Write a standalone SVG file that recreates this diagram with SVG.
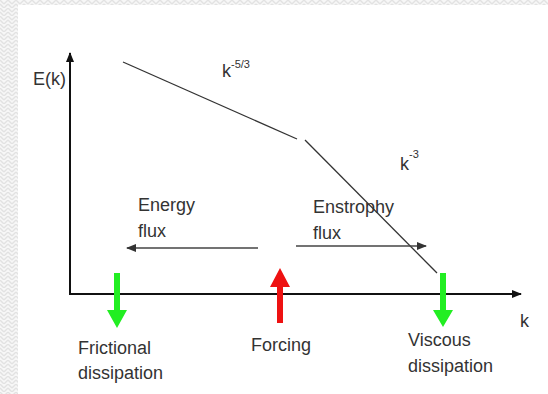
<svg xmlns="http://www.w3.org/2000/svg" width="548" height="394" viewBox="0 0 548 394">
<defs>
<pattern id="hatch" width="8" height="8" patternUnits="userSpaceOnUse">
<rect width="8" height="8" fill="#f7f7f7"/>
<path d="M0,0 L4,4 M4,4 L8,0 M0,4 L4,8 M4,8 L8,4" stroke="#e2e2e2" stroke-width="1.4" fill="none"/>
</pattern>
<marker id="blk" markerWidth="10" markerHeight="8" refX="9" refY="4" orient="auto" markerUnits="userSpaceOnUse">
<path d="M0,0 L10,4 L0,8 Z" fill="#111"/>
</marker>
<marker id="gry" markerWidth="10" markerHeight="8" refX="9" refY="4" orient="auto" markerUnits="userSpaceOnUse">
<path d="M0,0 L10,4 L0,8 Z" fill="#333"/>
</marker>
</defs>
<style>
text{font-family:"Liberation Sans",Arial,sans-serif;fill:#333;font-size:18px}
.sup{font-size:11px}
.axis{stroke:#111;stroke-width:2;fill:none}
.spec{stroke:#333;stroke-width:1.3;fill:none}
.flux{stroke:#444;stroke-width:1.5;fill:none}
</style>
<rect width="548" height="394" fill="#fff"/>
<rect x="0" y="0" width="548" height="5" fill="url(#hatch)"/>
<rect x="0" y="0" width="18" height="394" fill="url(#hatch)"/>
<g id="connectors">
<line class="axis" x1="70" y1="294" x2="70" y2="53" marker-end="url(#blk)"/>
<line class="axis" x1="69" y1="294" x2="521" y2="294" marker-end="url(#blk)"/>
<line class="spec" x1="123" y1="62" x2="297" y2="139"/>
<line class="spec" x1="305" y1="140" x2="437" y2="273"/>
<line class="flux" x1="258" y1="248" x2="127" y2="248" marker-end="url(#gry)"/>
<line class="flux" x1="296" y1="246" x2="426" y2="246" marker-end="url(#gry)"/>
</g>
<g id="frictional-arrow">
<path d="M114,273 H120 V310 H127 L117,328 L107,310 H114 Z" fill="#22ee22"/>
</g>
<g id="forcing-arrow">
<path d="M277,323 H283 V287 H290 L280,268 L270,287 H277 Z" fill="#ee1111"/>
</g>
<g id="viscous-arrow">
<path d="M440,273 H446 V310 H453 L443,327 L433,310 H440 Z" fill="#22ee22"/>
</g>
<g id="labels">
<text x="33" y="85">E(k)</text>
<text x="222" y="77">k<tspan class="sup" dy="-9">-5/3</tspan></text>
<text x="400" y="170">k<tspan class="sup" dy="-12">-3</tspan></text>
<text x="138" y="211">Energy</text>
<text x="138" y="237">flux</text>
<text x="313" y="213">Enstrophy</text>
<text x="313" y="239">flux</text>
<text x="520" y="327">k</text>
<text x="78" y="354">Frictional</text>
<text x="78" y="379">dissipation</text>
<text x="251" y="351">Forcing</text>
<text x="408" y="346">Viscous</text>
<text x="408" y="372">dissipation</text>
</g>
</svg>
